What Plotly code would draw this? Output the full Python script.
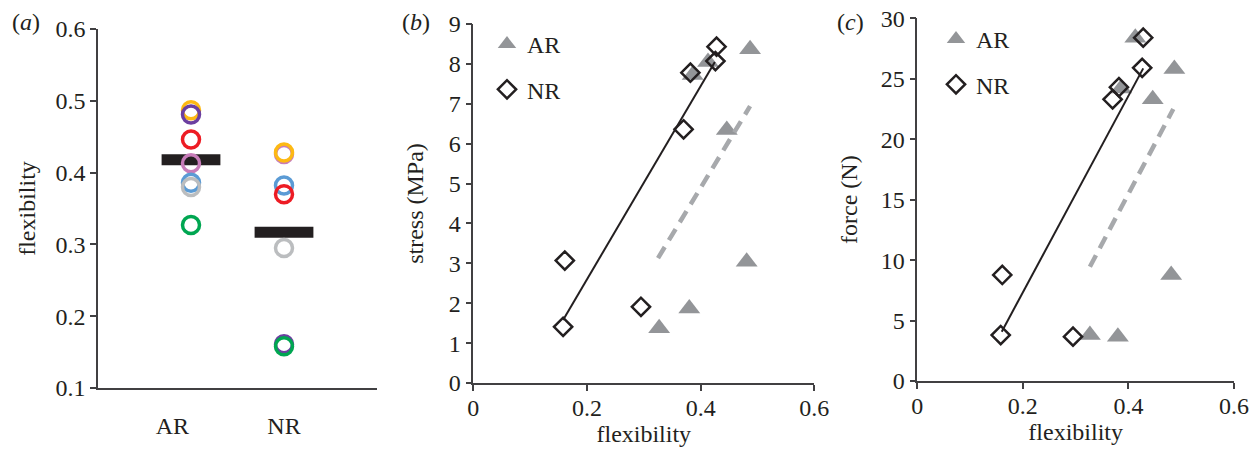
import plotly.graph_objects as go

# ---------------- data ----------------
groups = ["AR", "NR"]
subject_colors = ["#C77CB9", "#FDB913", "#6B3FA0", "#5B9BD5", "#ED1C24", "#BBBDBF", "#00A651"]
flex_ar = [0.413, 0.487, 0.481, 0.386, 0.446, 0.380, 0.327]
flex_nr = [0.426, 0.428, 0.161, 0.382, 0.370, 0.295, 0.158]
group_means = [0.418, 0.317]

# panel b: stress vs flexibility
ar_flex_b = [0.327, 0.380, 0.386, 0.413, 0.446, 0.481, 0.487]
ar_stress = [1.37, 1.87, 7.72, 8.05, 6.34, 3.04, 8.37]
nr_flex_b = [0.158, 0.161, 0.295, 0.370, 0.382, 0.426, 0.428]
nr_stress = [1.41, 3.07, 1.91, 6.36, 7.78, 8.07, 8.43]
ar_trend_b_x = [0.325, 0.487]
ar_trend_b_y = [3.13, 6.94]
nr_trend_b_x = [0.158, 0.425]
nr_trend_b_y = [1.58, 8.05]

# panel c: force vs flexibility
ar_flex_c = [0.327, 0.380, 0.386, 0.413, 0.446, 0.481, 0.487]
ar_force = [3.80, 3.67, 24.2, 28.4, 23.3, 8.77, 25.8]
nr_flex_c = [0.158, 0.161, 0.295, 0.370, 0.382, 0.426, 0.428]
nr_force = [3.80, 8.77, 3.67, 23.3, 24.3, 25.9, 28.4]
ar_trend_c_x = [0.327, 0.485]
ar_trend_c_y = [9.45, 22.5]
nr_trend_c_x = [0.160, 0.428]
nr_trend_c_y = [4.08, 25.86]

# ---------------- style ----------------
FONT = "Liberation Serif, Times New Roman, serif"
INK = "#231F20"
AXIS = "#414042"
TRI = "#939598"
DASH = "#A7A9AC"
FS = 24

W, H = 1258, 455
def px(x):
    return x / W
def py(y):
    return 1 - y / H

fig = go.Figure()

# ---------- panel (a) ----------
cat_pos = [1, 2]
fig.add_trace(go.Scatter(
    x=cat_pos, y=group_means, mode="markers", xaxis="x", yaxis="y",
    marker=dict(symbol="line-ew-open", size=42, color=INK, line=dict(width=11, color=INK)),
    showlegend=False, hoverinfo="y"))
for col, a, n in zip(subject_colors, flex_ar, flex_nr):
    fig.add_trace(go.Scatter(
        x=cat_pos, y=[a, n], mode="markers", xaxis="x", yaxis="y",
        marker=dict(symbol="circle-open", size=17, color=col, line=dict(width=3.5, color=col)),
        showlegend=False))

# ---------- panel (b) ----------
fig.add_trace(go.Scatter(
    x=ar_flex_b, y=ar_stress, mode="markers", name="AR", xaxis="x2", yaxis="y2",
    marker=dict(symbol="triangle-up", size=19, color=TRI), legend="legend", legendgroup="ar"))
fig.add_trace(go.Scatter(
    x=ar_trend_b_x, y=ar_trend_b_y, mode="lines", xaxis="x2", yaxis="y2",
    line=dict(color=DASH, width=4.5, dash="13px,8px"), showlegend=False))
fig.add_trace(go.Scatter(
    x=nr_trend_b_x, y=nr_trend_b_y, mode="lines", xaxis="x2", yaxis="y2",
    line=dict(color=INK, width=2), showlegend=False))
fig.add_trace(go.Scatter(
    x=nr_flex_b, y=nr_stress, mode="markers", name="NR", xaxis="x2", yaxis="y2",
    marker=dict(symbol="diamond-open", size=14, color=INK, line=dict(width=2.5, color=INK)),
    legend="legend", legendgroup="nr"))

# ---------- panel (c) ----------
fig.add_trace(go.Scatter(
    x=ar_flex_c, y=ar_force, mode="markers", name="AR", xaxis="x3", yaxis="y3",
    marker=dict(symbol="triangle-up", size=19, color=TRI), legend="legend2", legendgroup="ar"))
fig.add_trace(go.Scatter(
    x=ar_trend_c_x, y=ar_trend_c_y, mode="lines", xaxis="x3", yaxis="y3",
    line=dict(color=DASH, width=4.5, dash="13px,8px"), showlegend=False))
fig.add_trace(go.Scatter(
    x=nr_trend_c_x, y=nr_trend_c_y, mode="lines", xaxis="x3", yaxis="y3",
    line=dict(color=INK, width=2), showlegend=False))
fig.add_trace(go.Scatter(
    x=nr_flex_c, y=nr_force, mode="markers", name="NR", xaxis="x3", yaxis="y3",
    marker=dict(symbol="diamond-open", size=14, color=INK, line=dict(width=2.5, color=INK)),
    legend="legend2", legendgroup="nr"))

axis_common = dict(showline=True, linecolor=AXIS, linewidth=1.5, showgrid=False, zeroline=False,
                   automargin=False,
                   ticks="outside", ticklen=6, tickwidth=1.5, tickcolor=AXIS,
                   tickfont=dict(family=FONT, size=FS, color=INK),
                   title_font=dict(family=FONT, size=FS, color=INK))

legend_common = dict(font=dict(family=FONT, size=FS, color=INK), bgcolor="rgba(0,0,0,0)",
                     tracegroupgap=11, traceorder="grouped", xanchor="left", yanchor="top",
                     itemwidth=30)

fig.update_layout(
    width=W, height=H, margin=dict(l=0, r=0, t=0, b=0, autoexpand=False),
    paper_bgcolor="white", plot_bgcolor="white",
    font=dict(family=FONT, size=FS, color=INK),
    xaxis=dict(**{**axis_common, "ticks": ""}, domain=[px(98), px(377)], range=[0, 3],
               tickvals=[0.8, 2], ticktext=groups, ticklabelstandoff=15, anchor="y"),
    yaxis=dict(**axis_common, domain=[py(388), py(29)], range=[0.1, 0.6], dtick=0.1,
               tickformat=".1f", title=dict(text="flexibility", standoff=13), anchor="x"),
    xaxis2=dict(**axis_common, domain=[px(473.3), px(814.3)], range=[0, 0.6], dtick=0.2,
                ticklabelstandoff=-4,
                title=dict(text="flexibility", standoff=0), anchor="y2"),
    yaxis2=dict(**axis_common, domain=[py(383), py(24)], range=[0, 9], dtick=1,
                title=dict(text="stress (MPa)", standoff=18), anchor="x2"),
    xaxis3=dict(**axis_common, domain=[px(917.3), px(1234)], range=[0, 0.6], dtick=0.2,
                ticklabelstandoff=-4,
                title=dict(text="flexibility", standoff=0), anchor="y3"),
    yaxis3=dict(**axis_common, domain=[py(381), py(18.3)], range=[0, 30], dtick=5,
                title=dict(text="force (N)", standoff=16), anchor="x3"),
    legend=dict(**legend_common, x=px(487), y=py(22)),
    legend2=dict(**legend_common, x=px(936), y=py(17)),
    annotations=[
        dict(text="(<i>a</i>)", x=px(10), y=py(22), xref="paper", yref="paper",
             xanchor="left", yanchor="middle", showarrow=False,
             font=dict(family=FONT, size=FS, color=INK)),
        dict(text="(<i>b</i>)", x=px(400), y=py(22), xref="paper", yref="paper",
             xanchor="left", yanchor="middle", showarrow=False,
             font=dict(family=FONT, size=FS, color=INK)),
        dict(text="(<i>c</i>)", x=px(835), y=py(22), xref="paper", yref="paper",
             xanchor="left", yanchor="middle", showarrow=False,
             font=dict(family=FONT, size=FS, color=INK)),
    ],
)

fig.write_html("out.html", post_script="document.body.style.margin='0';",
               config={"displayModeBar": False})
